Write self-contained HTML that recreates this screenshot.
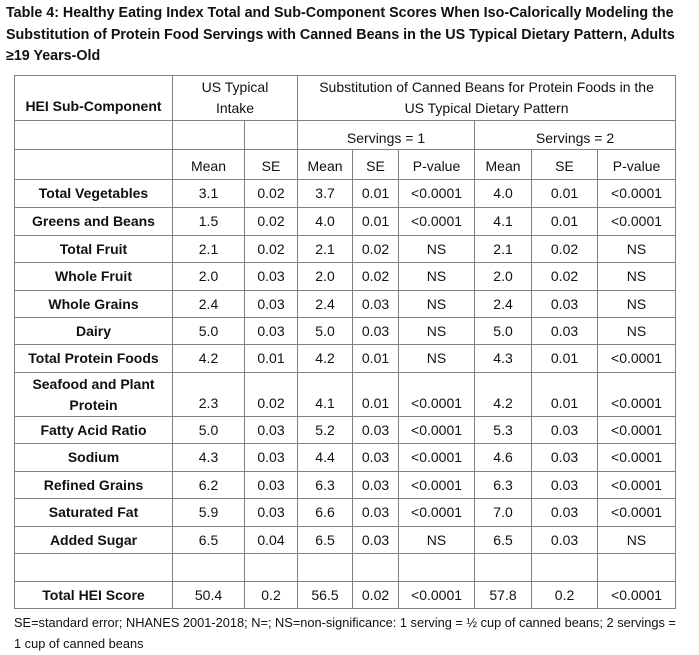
<!DOCTYPE html>
<html><head><meta charset="utf-8"><style>
body{margin:0;background:#fff;font-family:"Liberation Sans",Arial,sans-serif;color:#111;width:699px;height:655px;overflow:hidden;position:relative}
.title{position:absolute;left:6px;top:3px;width:688px;font-weight:bold;font-size:14.3px;line-height:21.5px}
table{position:absolute;left:14px;top:75px;border-collapse:collapse;table-layout:fixed;width:661px}
td{border:1px solid #808080;text-align:center;font-size:14px;padding:0;line-height:17px;overflow:hidden;white-space:nowrap}
td.l{font-weight:bold}
.note{position:absolute;left:14px;top:612px;font-size:12.8px;line-height:21px;width:668px}
.b{vertical-align:bottom;padding-bottom:4px}
</style></head><body>
<div class="title">Table 4: Healthy Eating Index Total and Sub-Component Scores When Iso-Calorically Modeling the Substitution of Protein Food Servings with Canned Beans in the US Typical Dietary Pattern, Adults ≥19 Years-Old</div>
<table>
<colgroup><col style="width:158px"><col style="width:72px"><col style="width:53px"><col style="width:55px"><col style="width:46px"><col style="width:76px"><col style="width:57px"><col style="width:66px"><col style="width:78px"></colgroup>
<tr style="height:45px"><td class="l b" style="padding-bottom:5px">HEI Sub-Component</td><td colspan="2" style="white-space:normal;line-height:21px">US Typical<br>Intake</td><td colspan="6" style="line-height:21px">Substitution of Canned Beans for Protein Foods in the<br>US Typical Dietary Pattern</td></tr>
<tr style="height:29px"><td></td><td></td><td></td><td colspan="3" class="b" style="padding-bottom:2px">Servings = 1</td><td colspan="3" class="b" style="padding-bottom:2px">Servings = 2</td></tr>
<tr style="height:30px"><td></td><td class="b">Mean</td><td class="b">SE</td><td class="b">Mean</td><td class="b">SE</td><td class="b">P-value</td><td class="b">Mean</td><td class="b">SE</td><td class="b">P-value</td></tr>
<tr style="height:28px"><td class="l">Total Vegetables</td><td>3.1</td><td>0.02</td><td>3.7</td><td>0.01</td><td>&lt;0.0001</td><td>4.0</td><td>0.01</td><td>&lt;0.0001</td></tr>
<tr style="height:28px"><td class="l">Greens and Beans</td><td>1.5</td><td>0.02</td><td>4.0</td><td>0.01</td><td>&lt;0.0001</td><td>4.1</td><td>0.01</td><td>&lt;0.0001</td></tr>
<tr style="height:27px"><td class="l">Total Fruit</td><td>2.1</td><td>0.02</td><td>2.1</td><td>0.02</td><td>NS</td><td>2.1</td><td>0.02</td><td>NS</td></tr>
<tr style="height:28px"><td class="l">Whole Fruit</td><td>2.0</td><td>0.03</td><td>2.0</td><td>0.02</td><td>NS</td><td>2.0</td><td>0.02</td><td>NS</td></tr>
<tr style="height:27px"><td class="l">Whole Grains</td><td>2.4</td><td>0.03</td><td>2.4</td><td>0.03</td><td>NS</td><td>2.4</td><td>0.03</td><td>NS</td></tr>
<tr style="height:27px"><td class="l">Dairy</td><td>5.0</td><td>0.03</td><td>5.0</td><td>0.03</td><td>NS</td><td>5.0</td><td>0.03</td><td>NS</td></tr>
<tr style="height:28px"><td class="l">Total Protein Foods</td><td>4.2</td><td>0.01</td><td>4.2</td><td>0.01</td><td>NS</td><td>4.3</td><td>0.01</td><td>&lt;0.0001</td></tr>
<tr style="height:44px"><td class="l" style="line-height:21px">Seafood and Plant<br>Protein</td><td class="b">2.3</td><td class="b">0.02</td><td class="b">4.1</td><td class="b">0.01</td><td class="b">&lt;0.0001</td><td class="b">4.2</td><td class="b">0.01</td><td class="b">&lt;0.0001</td></tr>
<tr style="height:27px"><td class="l">Fatty Acid Ratio</td><td>5.0</td><td>0.03</td><td>5.2</td><td>0.03</td><td>&lt;0.0001</td><td>5.3</td><td>0.03</td><td>&lt;0.0001</td></tr>
<tr style="height:28px"><td class="l">Sodium</td><td>4.3</td><td>0.03</td><td>4.4</td><td>0.03</td><td>&lt;0.0001</td><td>4.6</td><td>0.03</td><td>&lt;0.0001</td></tr>
<tr style="height:27px"><td class="l">Refined Grains</td><td>6.2</td><td>0.03</td><td>6.3</td><td>0.03</td><td>&lt;0.0001</td><td>6.3</td><td>0.03</td><td>&lt;0.0001</td></tr>
<tr style="height:28px"><td class="l">Saturated Fat</td><td>5.9</td><td>0.03</td><td>6.6</td><td>0.03</td><td>&lt;0.0001</td><td>7.0</td><td>0.03</td><td>&lt;0.0001</td></tr>
<tr style="height:27px"><td class="l">Added Sugar</td><td>6.5</td><td>0.04</td><td>6.5</td><td>0.03</td><td>NS</td><td>6.5</td><td>0.03</td><td>NS</td></tr>
<tr style="height:28px"><td></td><td></td><td></td><td></td><td></td><td></td><td></td><td></td><td></td></tr>
<tr style="height:27px"><td class="l">Total HEI Score</td><td>50.4</td><td>0.2</td><td>56.5</td><td>0.02</td><td>&lt;0.0001</td><td>57.8</td><td>0.2</td><td>&lt;0.0001</td></tr>
</table>
<div class="note">SE=standard error; NHANES 2001-2018; N=; NS=non-significance: 1 serving = ½ cup of canned beans; 2 servings = 1 cup of canned beans</div>
</body></html>
